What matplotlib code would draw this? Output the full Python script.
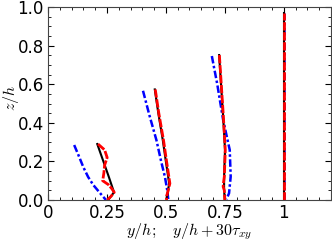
import matplotlib
matplotlib.use("Agg")
import matplotlib.pyplot as plt
from matplotlib.ticker import MultipleLocator

plt.rcParams['mathtext.fontset'] = 'cm'

# profiles (x values already shifted: y/h + 30*tau_xy), z/h heights
z1_black = [0.29, 0.20, 0.12, 0.04, 0.0]
x1_black = [0.209, 0.235, 0.258, 0.280, 0.255]
z1_red = [0.29, 0.26, 0.22, 0.18, 0.14, 0.10, 0.08, 0.06, 0.04, 0.02, 0.0]
x1_red = [0.212, 0.240, 0.251, 0.240, 0.237, 0.232, 0.256, 0.270, 0.281, 0.268, 0.251]
z1_blue = [0.285, 0.23, 0.17, 0.12, 0.078, 0.04, 0.0]
x1_blue = [0.111, 0.130, 0.150, 0.170, 0.192, 0.218, 0.246]

z2_black = [0.573, 0.45, 0.31, 0.20, 0.086, 0.04, 0.009]
x2_black = [0.453, 0.468, 0.487, 0.500, 0.514, 0.508, 0.503]
z2_red = [0.573, 0.45, 0.31, 0.20, 0.086, 0.05, 0.02, 0.0]
x2_red = [0.455, 0.470, 0.490, 0.503, 0.517, 0.510, 0.503, 0.503]
z2_blue = [0.566, 0.44, 0.31, 0.20, 0.12, 0.05, 0.005]
x2_blue = [0.403, 0.430, 0.460, 0.480, 0.496, 0.506, 0.510]

z3_black = [0.751, 0.60, 0.432, 0.259, 0.121, 0.05, 0.0]
x3_black = [0.726, 0.734, 0.743, 0.751, 0.747, 0.747, 0.750]
z3_red = [0.751, 0.60, 0.432, 0.259, 0.121, 0.085, 0.069, 0.05, 0.0]
x3_red = [0.727, 0.735, 0.744, 0.752, 0.748, 0.744, 0.743, 0.748, 0.750]
z3_blue = [0.746, 0.60, 0.415, 0.259, 0.121, 0.035, 0.004]
x3_blue = [0.695, 0.718, 0.743, 0.771, 0.775, 0.768, 0.757]

z4 = [0.0, 0.97]
x4 = [1.0, 1.0]

fig = plt.figure(figsize=(3.32, 2.41), dpi=100)
ax = fig.add_axes([0.1446, 0.170, 0.852, 0.801])

for xb, zb, xr, zr, xbl, zbl in [
    (x1_black, z1_black, x1_red, z1_red, x1_blue, z1_blue),
    (x2_black, z2_black, x2_red, z2_red, x2_blue, z2_blue),
    (x3_black, z3_black, x3_red, z3_red, x3_blue, z3_blue),
    (x4, z4, x4, z4, x4, z4),
]:
    ax.plot(xbl, zbl, color='blue', ls='-.', lw=1.8, dashes=(3, 1, 1, 1))
    ax.plot(xb, zb, color='black', ls='-', lw=1.5)
    ax.plot(xr, zr, color='red', ls='--', lw=2.0, dashes=(3, 0.6))

ax.set_xlim(0, 1.2)
ax.set_ylim(0, 1.0)
ax.set_xticks([0, 0.25, 0.5, 0.75, 1])
ax.set_xticklabels(['0', '0.25', '0.5', '0.75', '1'])
ax.set_yticks([0, 0.2, 0.4, 0.6, 0.8, 1.0])
ax.set_yticklabels(['0.0', '0.2', '0.4', '0.6', '0.8', '1.0'])
ax.xaxis.set_minor_locator(MultipleLocator(0.05))
ax.yaxis.set_minor_locator(MultipleLocator(0.05))
ax.tick_params(which='both', direction='in', top=True, right=True, labelsize=12)
ax.tick_params(which='major', length=4, pad=3)
ax.tick_params(which='minor', length=2)
for s in ax.spines.values():
    s.set_color('#444444')
ax.set_xlabel(r'$y/h;\quad y/h+30\tau_{xy}$', fontsize=11.5)
ax.set_ylabel(r'$z/h$', fontsize=11.5)
ax.xaxis.set_label_coords(0.5, -0.11)
ax.yaxis.set_label_coords(-0.095, 0.53)

fig.savefig('out.png', dpi=100)
